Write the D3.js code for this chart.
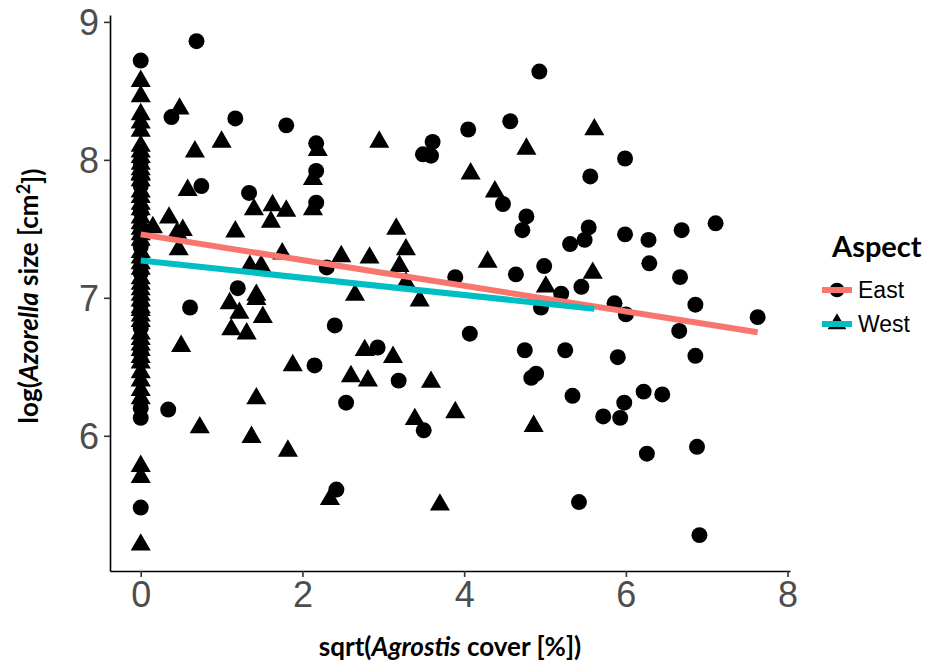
<!DOCTYPE html>
<html>
<head>
<meta charset="utf-8">
<script src="https://cdn.jsdelivr.net/npm/d3@7/dist/d3.min.js"></script>
<style>
  html, body { margin: 0; padding: 0; background: #fff; }
  svg { display: block; }
</style>
</head>
<body>
<script>
// Azorella cushion size vs. Agrostis cover, by slope aspect

// East aspect (circles)
const eastX = [0, 0, 0, 0, 0, 0, 0, 0, 0, 0, 0, 0,
  0.69, 0.38, 1.17, 0.75, 1.34, 1.20, 0.61, 0.34, 1.80, 2.17, 3.61, 3.49, 3.59, 4.05,
  2.17, 2.17, 2.30, 3.89, 2.40, 4.07, 2.93, 2.15, 3.19, 2.54, 3.50, 2.42, 4.93, 4.57,
  5.99, 5.56, 4.48, 4.77, 4.72, 5.54, 5.49, 5.31, 5.99, 6.28, 6.29, 4.64, 4.99, 5.45,
  5.20, 4.95, 5.86, 6.00, 4.75, 5.25, 5.90, 4.83, 4.89, 5.34, 5.72, 5.93, 5.98, 6.22,
  6.45, 6.26, 5.42, 7.11, 6.69, 6.67, 6.86, 7.63, 6.66, 6.86, 6.88, 6.91];
const eastY = [8.72, 7.98, 7.81, 7.62, 7.37, 7.18, 6.95, 6.78, 6.60, 6.20, 6.13, 5.48,
  8.86, 8.31, 8.30, 7.81, 7.76, 7.07, 6.93, 6.19, 8.25, 8.12, 8.13, 8.04, 8.03, 8.22,
  7.92, 7.69, 7.22, 7.15, 6.80, 6.74, 6.64, 6.51, 6.40, 6.24, 6.04, 5.61, 8.64, 8.28,
  8.01, 7.88, 7.68, 7.59, 7.49, 7.51, 7.42, 7.39, 7.46, 7.42, 7.25, 7.17, 7.23, 7.08,
  7.03, 6.93, 6.96, 6.88, 6.62, 6.62, 6.57, 6.42, 6.45, 6.29, 6.14, 6.13, 6.24, 6.32,
  6.30, 5.87, 5.52, 7.54, 7.49, 7.15, 6.95, 6.86, 6.76, 6.58, 5.92, 5.28];

// West aspect (triangles)
const westX = [0, 0, 0, 0, 0, 0, 0, 0, 0, 0, 0, 0, 0, 0, 0, 0, 0, 0, 0, 0,
  0, 0, 0, 0, 0, 0, 0, 0, 0, 0, 0, 0, 0, 0, 0, 0, 0, 0, 0, 0,
  0, 0, 0, 0, 0, 0, 0, 0,
  0.48, 1.00, 0.67, 0.58, 1.40, 1.63, 1.61, 0.35, 0.15, 0.45, 0.52, 1.17, 0.47, 1.35,
  1.49, 1.43, 1.10, 1.43, 1.51, 1.12, 1.31, 1.22, 0.50, 0.73, 1.43, 1.37, 1.82, 2.19,
  2.95, 2.13, 2.13, 1.80, 3.16, 3.28, 1.75, 2.48, 2.83, 3.20, 3.28, 2.65, 3.45, 2.77,
  3.12, 1.88, 2.60, 2.81, 3.59, 3.39, 3.89, 2.34, 3.70, 5.61, 4.77, 4.08, 4.38, 4.29,
  5.59, 5.01, 4.86];
const westY = [8.57, 8.46, 8.33, 8.27, 8.21, 8.10, 8.06, 8.02, 7.97, 7.93, 7.89, 7.85,
  7.77, 7.73, 7.68, 7.64, 7.58, 7.54, 7.50, 7.46, 7.42, 7.33, 7.29, 7.25, 7.21, 7.14,
  7.10, 7.06, 7.02, 6.98, 6.91, 6.87, 6.83, 6.74, 6.70, 6.66, 6.62, 6.57, 6.53, 6.46,
  6.40, 6.33, 6.27, 5.78, 5.70, 5.21, 7.90, 6.93,
  8.37, 8.13, 8.06, 7.78, 7.64, 7.67, 7.55, 7.58, 7.51, 7.47, 7.49, 7.48, 7.35, 7.23,
  7.23, 7.02, 6.96, 6.99, 6.86, 6.77, 6.74, 6.89, 6.65, 6.06, 6.27, 5.99, 5.89, 8.07,
  8.13, 7.86, 7.64, 7.63, 7.50, 7.35, 7.32, 7.30, 7.29, 7.23, 7.11, 7.02, 6.98, 6.62,
  6.57, 6.51, 6.43, 6.40, 6.39, 6.12, 6.17, 5.54, 5.50, 8.22, 8.08, 7.90, 7.77, 7.26,
  7.18, 7.08, 6.07];

// Fitted linear trends: [start, end] as [x, y]
const eastFitX = [0, 7.63];
const eastFitY = [7.46, 6.75];
const westFitX = [0, 5.61];
const westFitY = [7.27, 6.92];

const xTicks = [0, 2, 4, 6, 8];
const yTicks = [6, 7, 8, 9];
const groups = ["East", "West"];
const groupColors = ["#F8766D", "#00BFC4"];

const W = 938, H = 671;
const svg = d3.select("body").append("svg").attr("width", W).attr("height", H);

const x = d3.scaleLinear().domain([-0.38, 8.03]).range([110, 790]);
const y = d3.scaleLinear().domain([5.02, 9.05]).range([571, 15]);

const tickFont = "'Liberation Sans Narrow', 'Arial Narrow', 'Liberation Sans', sans-serif";
const titleFont = "Lato, 'Open Sans', sans-serif";
const fmt = d3.format("d");

// Axes
const gx = svg.append("g").attr("transform", `translate(0,${y.range()[0]})`)
  .call(d3.axisBottom(x).tickValues(xTicks).tickFormat(fmt)
    .tickSize(6).tickSizeOuter(0).tickPadding(4));
const gy = svg.append("g").attr("transform", `translate(${x.range()[0]},0)`)
  .call(d3.axisLeft(y).tickValues(yTicks).tickFormat(fmt)
    .tickSize(6).tickSizeOuter(0).tickPadding(5));

[gx, gy].forEach(g => {
  g.select(".domain").attr("stroke", "#000").attr("stroke-width", 1.6);
  g.selectAll(".tick line").attr("stroke", "#333").attr("stroke-width", 1.6);
  g.selectAll(".tick text").attr("fill", "#4D4D4D")
    .style("font-family", tickFont).style("font-size", "36px");
});
gy.selectAll(".tick text").attr("dy", "0.36em");

// Points
const circlePath = d3.symbol().type(d3.symbolCircle).size(200)();
const trianglePath = d3.symbol().type(d3.symbolTriangle).size(175)();

svg.append("g").selectAll("path").data(d3.range(eastX.length)).join("path")
  .attr("d", circlePath)
  .attr("transform", i => `translate(${x(eastX[i])},${y(eastY[i])})`)
  .attr("fill", "#000");

svg.append("g").selectAll("path").data(d3.range(westX.length)).join("path")
  .attr("d", trianglePath)
  .attr("transform", i => `translate(${x(westX[i])},${y(westY[i])})`)
  .attr("fill", "#000");

// Trend lines
const line = d3.line().x(d => x(d[0])).y(d => y(d[1]));
const fits = [d3.zip(eastFitX, eastFitY), d3.zip(westFitX, westFitY)];
fits.forEach((f, k) => {
  svg.append("path").attr("d", line(f)).attr("fill", "none")
    .attr("stroke", groupColors[k]).attr("stroke-width", 6);
});

// Axis titles
const xt = svg.append("text").attr("x", 450).attr("y", 656).attr("text-anchor", "middle")
  .style("font-family", titleFont).style("font-weight", "bold").style("font-size", "26px")
  .attr("fill", "#000");
xt.append("tspan").text("sqrt(");
xt.append("tspan").style("font-style", "italic").text("Agrostis");
xt.append("tspan").text(" cover [%])");

const yt = svg.append("text").attr("transform", "translate(38,296) rotate(-90)")
  .attr("text-anchor", "middle")
  .style("font-family", titleFont).style("font-weight", "bold").style("font-size", "26px")
  .attr("fill", "#000");
yt.append("tspan").text("log(");
yt.append("tspan").style("font-style", "italic").text("Azorella");
yt.append("tspan").text(" size [cm");
yt.append("tspan").attr("dy", "-0.45em").style("font-size", "18px").text("2");
yt.append("tspan").attr("dy", "0.45em").text("])");

// Legend
const lg = svg.append("g");
lg.append("text").attr("x", 832).attr("y", 257)
  .style("font-family", titleFont).style("font-weight", "bold").style("font-size", "29px")
  .text("Aspect");
const keyY = [290, 324];
groups.forEach((g, k) => {
  const cy = keyY[k];
  lg.append("path")
    .attr("d", k === 0 ? d3.symbol().type(d3.symbolCircle).size(170)() : d3.symbol().type(d3.symbolTriangle).size(150)())
    .attr("transform", `translate(837,${cy})`).attr("fill", "#000");
  lg.append("line").attr("x1", 822).attr("x2", 852).attr("y1", cy).attr("y2", cy)
    .attr("stroke", groupColors[k]).attr("stroke-width", 6);
  lg.append("text").attr("x", 858).attr("y", cy).attr("dy", "0.36em")
    .style("font-family", "'Liberation Sans', Arial, sans-serif").style("font-size", "23px")
    .text(g);
});
</script>
</body>
</html>
